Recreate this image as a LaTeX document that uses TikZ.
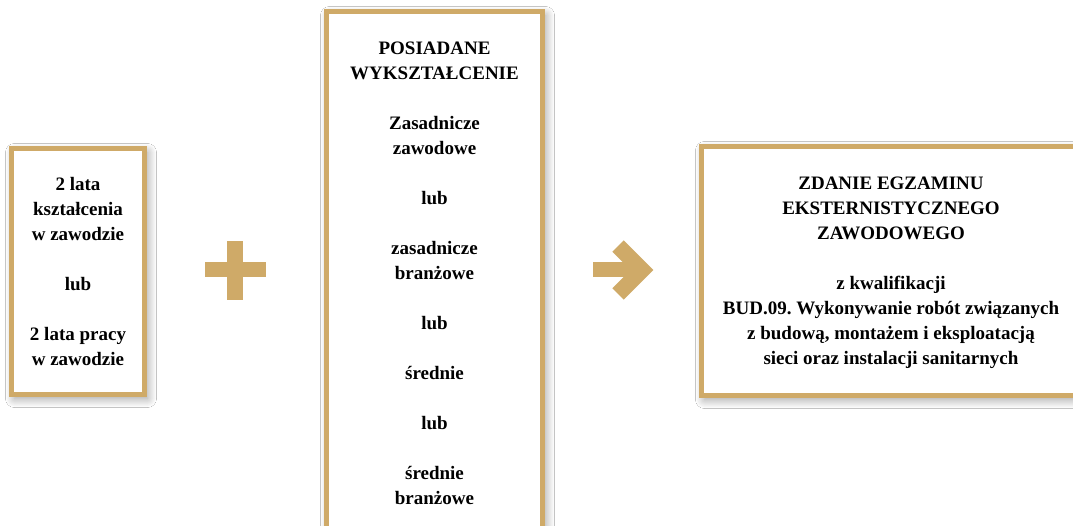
\documentclass[tikz,border=0pt]{standalone}
\usepackage{fontspec}
\setmainfont{Liberation Serif}
\usetikzlibrary{shadows.blur}
\definecolor{gold}{RGB}{207,170,104}
\frenchspacing
\begin{document}
\begin{tikzpicture}[x=1pt,y=-1pt,
  box/.style={draw=gold, line width=5pt, fill=white, inner sep=0pt, outer sep=0pt,
    blur shadow={shadow xshift=3pt, shadow yshift=-4pt, shadow blur radius=9pt, shadow blur steps=14, shadow opacity=40}},
  txt/.style={font=\bfseries\fontsize{19}{25}\selectfont, align=center, inner sep=0pt, text=black}]
\useasboundingbox (0,0) rectangle (1073,526);
\clip (0,0) rectangle (1073,526);
\fill[white] (0,0) rectangle (1073,526);
% boxes
\node[box, minimum width=133pt, minimum height=246pt] (left) at (78,271.5) {};
\node[box, minimum width=216pt, minimum height=533.5pt] (mid) at (434.5,278.25) {};
\node[box, minimum width=379pt, minimum height=249pt] (right) at (891,271) {};
% texts
\node[txt] (lefttxt) at (78,272) {2 lata\\kształcenia\\w zawodzie\\[25pt]lub\\[25pt]2 lata pracy\\w zawodzie};
\node[txt] (midtxt) at (434.5,273.5) {POSIADANE\\WYKSZTAŁCENIE\\[25pt]Zasadnicze\\zawodowe\\[25pt]lub\\[25pt]zasadnicze\\branżowe\\[25pt]lub\\[25pt]średnie\\[25pt]lub\\[25pt]średnie\\branżowe};
\node[txt] (righttxt) at (891,273) {ZDANIE EGZAMINU\\EKSTERNISTYCZNEGO\\ZAWODOWEGO\\[25pt]z kwalifikacji\\BUD.09. Wykonywanie robót związanych\\z budową, montażem i eksploatacją\\sieci oraz instalacji sanitarnych};
% plus sign
\fill[gold] (227,241) rectangle (243,300);
\fill[gold] (205,262) rectangle (266,277);
% arrow
\fill[gold] (593,262.5) rectangle (640,277.5);
\draw[gold, line width=16pt, miter limit=4, line join=miter] (618,246) -- (642,270) -- (618,294);
\end{tikzpicture}
\end{document}
